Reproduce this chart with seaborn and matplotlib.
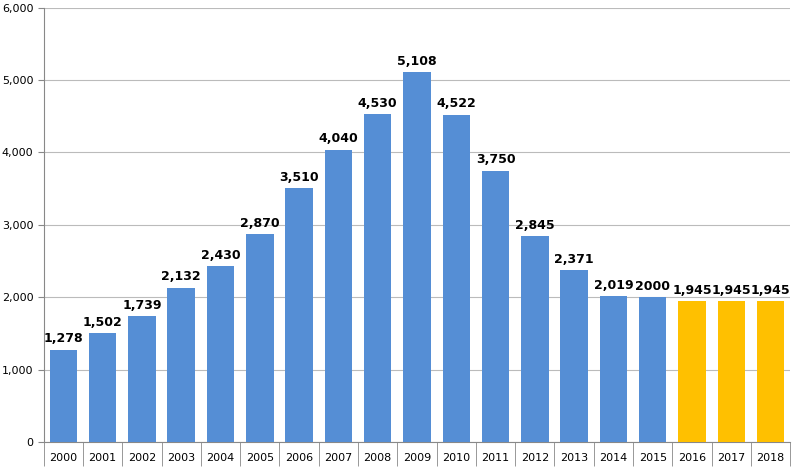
import numpy as np
import pandas as pd
import matplotlib
matplotlib.use("Agg")
import matplotlib.pyplot as plt
import seaborn as sns
from matplotlib.ticker import FuncFormatter, FixedLocator

years = [str(y) for y in range(2000, 2019)]
values = [1278, 1502, 1739, 2132, 2430, 2870, 3510, 4040, 4530, 5108,
          4522, 3750, 2845, 2371, 2019, 2000, 1945, 1945, 1945]
labels = ["1,278", "1,502", "1,739", "2,132", "2,430", "2,870", "3,510", "4,040",
          "4,530", "5,108", "4,522", "3,750", "2,845", "2,371", "2,019", "2000",
          "1,945", "1,945", "1,945"]
forecast_years = ["2016", "2017", "2018"]

df = pd.DataFrame({"year": years, "value": values})
palette = ["#FFC000" if y in forecast_years else "#558ED5" for y in years]

plt.rcParams["font.family"] = "DejaVu Sans"
fig = plt.figure(figsize=(7.95, 4.67), dpi=100)
ax = fig.add_axes([0.055, 0.0535, 0.939, 0.93])
sns.barplot(data=df, x="year", y="value", hue="year", palette=palette,
            legend=False, width=0.7, ax=ax, saturation=1, zorder=3)

for i, (v, t) in enumerate(zip(values, labels)):
    ax.text(i, v + 60, t, ha="center", va="bottom", fontsize=9, fontweight="bold")

ax.set_ylim(0, 6000)
ax.set_xlim(-0.5, len(years) - 0.5)
ax.set_yticks(range(0, 6001, 1000))
ax.yaxis.set_major_formatter(FuncFormatter(lambda v, p: f"{int(v):,}"))
ax.grid(axis="y", color="#BBBBBB", linewidth=0.8, zorder=0)
ax.set_axisbelow(True)
ax.set_xlabel("")
ax.set_ylabel("")
ax.tick_params(axis="x", length=0, labelsize=8, pad=8)
ax.tick_params(axis="y", length=4, labelsize=8, color="#888888")
ax.xaxis.set_minor_locator(FixedLocator(np.arange(-0.5, len(years), 1)))
ax.tick_params(axis="x", which="minor", length=17, color="#888888")
for s in ["top", "right"]:
    ax.spines[s].set_visible(False)
ax.spines["left"].set_color("#888888")
ax.spines["bottom"].set_color("#888888")

fig.savefig("out.png", dpi=100)
